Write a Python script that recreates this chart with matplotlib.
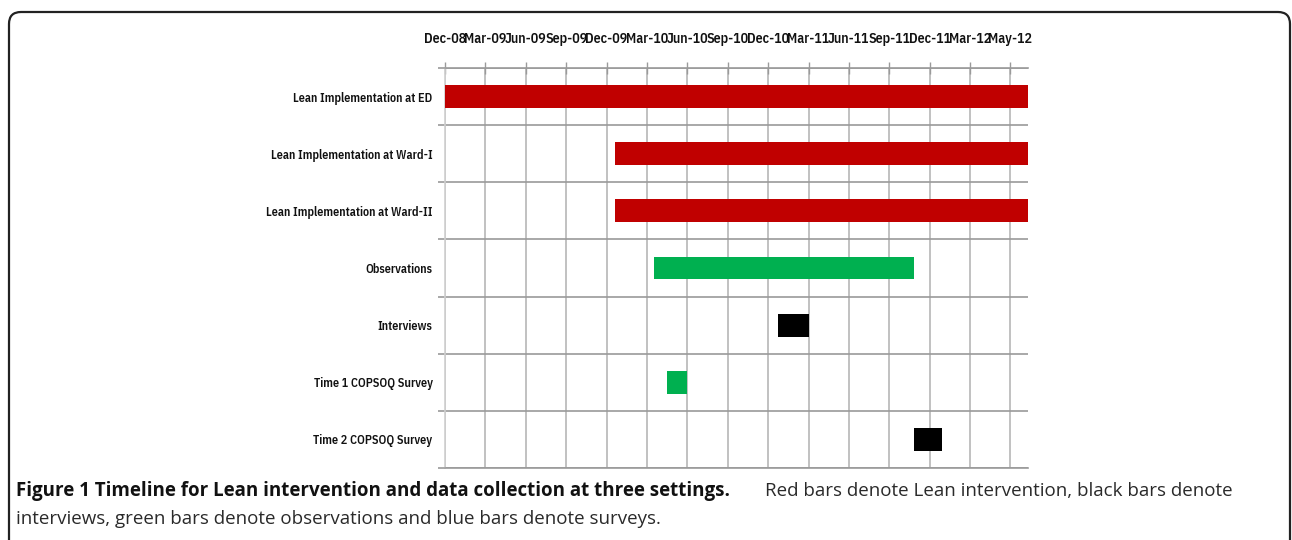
#!/usr/bin/env python3
import matplotlib
matplotlib.use("Agg")
import matplotlib.pyplot as plt
from matplotlib.patches import FancyBboxPatch

# data (x in months since Dec-08)
tasks = ["Lean Implementation at ED", "Lean Implementation at Ward-I",
         "Lean Implementation at Ward-II", "Observations", "Interviews",
         "Time 1 COPSOQ Survey", "Time 2 COPSOQ Survey"]
starts = [0.0, 12.6, 12.6, 15.5, 24.7, 16.5, 34.8]
ends = [43.3, 43.3, 43.3, 34.8, 27.0, 18.0, 36.9]
colors = ["#C00000", "#C00000", "#C00000", "#00B050", "#000000", "#00B050", "#000000"]
tick_months = [0, 3, 6, 9, 12, 15, 18, 21, 24, 27, 30, 33, 36, 39, 42]
tick_labels = ["Dec-08", "Mar-09", "Jun-09", "Sep-09", "Dec-09", "Mar-10", "Jun-10",
               "Sep-10", "Dec-10", "Mar-11", "Jun-11", "Sep-11", "Dec-11", "Mar-12", "May-12"]
x_max = 43.3

narrow = ["IBM Plex Sans Condensed", "DejaVu Sans"]

fig = plt.figure(figsize=(12.92, 5.4), dpi=100)
ax = fig.add_axes([445 / 1292, 1 - 468 / 540, 583 / 1292, 400 / 540])

rows = list(range(len(tasks)))
widths = [e - s for s, e in zip(starts, ends)]
ax.barh([r + 0.5 for r in rows], widths, left=starts, color=colors, height=0.4, zorder=3)

ax.set_xlim(0, x_max)
ax.set_ylim(len(tasks), 0)

# top date axis
ax.xaxis.tick_top()
ax.set_xticks(tick_months)
ax.set_xticklabels(tick_labels, fontsize=10, fontweight="semibold", family=narrow, color="#111111")
ax.tick_params(axis="x", which="major", direction="inout", length=9, width=1,
               color="#9a9a9a", pad=11)

# row labels between row separators
ax.set_yticks([r + 0.5 for r in rows])
ax.set_yticklabels(tasks, fontsize=8.7, fontweight="semibold", family=narrow, color="#111111")
ax.tick_params(axis="y", which="major", length=0, pad=9)
ax.set_yticks(list(range(len(tasks) + 1)), minor=True)
ax.tick_params(axis="y", which="minor", direction="out", length=5, width=1.2, color="#9a9a9a")

ax.grid(True, axis="x", which="major", color="#b0b0b0", linewidth=1.1, zorder=0)
ax.grid(True, axis="y", which="minor", color="#9a9a9a", linewidth=1.2, zorder=0)
ax.grid(False, axis="y", which="major")

for side in ["top", "bottom"]:
    ax.spines[side].set_color("#9a9a9a")
    ax.spines[side].set_linewidth(1.2)
ax.spines["left"].set_color("#d0d0d0")
ax.spines["left"].set_linewidth(1.2)
ax.spines["right"].set_visible(False)

# caption
fig.text(16 / 1292, 1 - 491 / 540, "Figure 1 Timeline for Lean intervention and data collection at three settings.",
         fontsize=13.5, fontweight="bold", family="Open Sans", color="#111111", va="center")
fig.text(1233 / 1292, 1 - 491 / 540, "Red bars denote Lean intervention, black bars denote",
         fontsize=13.5, family="Open Sans", color="#2a2a2a", va="center", ha="right")
fig.text(16 / 1292, 1 - 519 / 540, "interviews, green bars denote observations and blue bars denote surveys.",
         fontsize=13.5, family="Open Sans", color="#2a2a2a", va="center")

# rounded frame
frame = FancyBboxPatch((9, -30), 1281, 528 + 30, boxstyle="round,pad=0,rounding_size=12",
                       transform=None, facecolor="none", edgecolor="#222222", linewidth=1.6)
fig.patches.append(frame)

plt.savefig("out.png", dpi=100)
